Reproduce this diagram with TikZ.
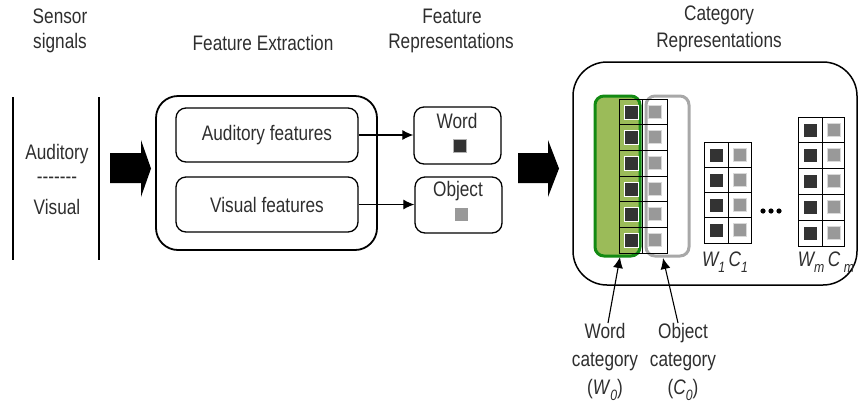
\documentclass[tikz,border=0pt]{standalone}
\usepackage{fontspec}
\setmainfont[FakeStretch=0.82]{Liberation Sans}
\usetikzlibrary{arrows.meta}
\definecolor{txt}{HTML}{2E2E2E}
\definecolor{catgreen}{HTML}{9BBB59}
\definecolor{catgreenline}{HTML}{138A13}
\definecolor{catgray}{HTML}{A8A8A8}
\definecolor{wordsq}{HTML}{333333}
\definecolor{objsq}{HTML}{999999}
\newcommand{\lowidx}[1]{\raisebox{-6pt}{\fontsize{15}{15}\selectfont #1}}
\begin{document}
\begin{tikzpicture}[x=1pt,y=-1pt,
  lbl/.style={text=txt,font=\fontsize{21}{28}\selectfont,inner sep=0pt,align=center},
  rbox/.style={draw,line width=1.3pt,rounded corners=10pt,inner sep=0pt},
  bigbox/.style={draw,line width=1.8pt,inner sep=0pt},
  blockarrow/.style={fill=black},
  link/.style={line width=1.1pt,-{Latex[length=11pt,width=10pt]}},
  cell/.style={draw=black,line width=0.9pt},
  wsq/.style={fill=wordsq,draw=white,line width=1pt},
  csq/.style={fill=objsq,draw=white!85!black,line width=0.8pt}
]
\useasboundingbox (0,0) rectangle (858,408);

% ---- sensor signals ----
\node[lbl] (sensorT) at (60,16) {Sensor};
\node[lbl] (sensorB) at (60,43) {signals};
\draw[line width=1.2pt] (13,97) -- (13,260);
\draw[line width=1.2pt] (99,97) -- (99,260);
\node[lbl] (aud) at (57,154) {Auditory};
\node[lbl] (dash) at (57,180) {{-}{-}{-}{-}{-}{-}{-}};
\node[lbl] (vis) at (57,207) {Visual};

% ---- block arrows ----
\fill[blockarrow] (110,153) -- (141,153) -- (141,140) -- (151,168.5) -- (141,197) -- (141,183) -- (110,183) -- cycle;
\fill[blockarrow] (518,153) -- (548,153) -- (548,140) -- (559,168.5) -- (548,197) -- (548,183) -- (518,183) -- cycle;

% ---- feature extraction ----
\node[lbl] (feT) at (263,43) {Feature Extraction};
\node[bigbox,rounded corners=22pt,minimum width=221pt,minimum height=154pt] (fe) at (266.5,173) {};
\node[rbox,minimum width=182pt,minimum height=54pt,lbl] (audf) at (267,135) {Auditory features};
\node[rbox,minimum width=182pt,minimum height=55pt,lbl] (visf) at (267,204.5) {Visual features};

% ---- feature representations ----
\node[lbl] (frT) at (452,16) {Feature};
\node[lbl] (frB) at (451,43) {Representations};
\node[rbox,minimum width=87pt,minimum height=57pt] (word) at (457.5,135.5) {};
\node[lbl] (wordT) at (457,121) {Word};
\filldraw[fill=wordsq,draw=gray!60,line width=0.8pt] (453,139) rectangle (466,152);
\node[rbox,minimum width=87pt,minimum height=56pt] (obj) at (458.5,205) {};
\node[lbl] (objT) at (458,191) {Object};
\fill[objsq] (455,208) rectangle (468,221);

\draw[link] (audf.east) -- (audf.east -| word.west);
\draw[link] (visf.east) -- (visf.east -| obj.west);

% ---- category representations ----
\node[lbl] (crT) at (719,15) {Category};
\node[lbl] (crB) at (719,42) {Representations};
\draw[line width=1.5pt,rounded corners=34pt] (573,62) rectangle (857,285);

% W0 / C0 highlight columns
\filldraw[fill=catgreen,draw=catgreenline,line width=3pt,rounded corners=9pt] (595,96) rectangle (640,256);
\draw[draw=catgray,line width=3pt,rounded corners=9pt] (646,96) rectangle (689,256);

\foreach \i [evaluate=\i as \yt using 99+\i*25.67] in {0,...,5} {
  \draw[cell] (619,\yt) rectangle (642,\yt+25.67);
  \draw[cell] (642,\yt) rectangle (667,\yt+25.67);
  \filldraw[wsq] (624,\yt+6) rectangle ++(14,14);
  \filldraw[csq] (648,\yt+6) rectangle ++(13,13);
}

% W1 / C1
\foreach \i [evaluate=\i as \yt using 142+\i*25.25] in {0,...,3} {
  \draw[cell] (704,\yt) rectangle (728,\yt+25.25);
  \draw[cell] (728,\yt) rectangle (751,\yt+25.25);
  \filldraw[wsq] (709,\yt+6) rectangle ++(14,14);
  \filldraw[csq] (733,\yt+6) rectangle ++(13,13);
}

% Wm / Cm
\foreach \i [evaluate=\i as \yt using 117+\i*25.8] in {0,...,4} {
  \draw[cell] (798,\yt) rectangle (822,\yt+25.8);
  \draw[cell] (822,\yt) rectangle (844,\yt+25.8);
  \filldraw[wsq] (803,\yt+6) rectangle ++(14,14);
  \filldraw[csq] (827,\yt+6) rectangle ++(13,13);
}

% ellipsis dots
\foreach \x in {763,771,779} \fill (\x,211) circle (2.6pt);

\node[lbl,font=\fontsize{21}{28}\selectfont\itshape] (w1c1) at (725,262) {W\lowidx{1}\,C\lowidx{1}};
\node[lbl,font=\fontsize{21}{28}\selectfont\itshape] (wmcm) at (826,262) {W\lowidx{m}\,C\,\lowidx{m}};

% ---- category labels ----
\node[lbl,anchor=north] (wcat) at (605,323) {Word\\category\\(\textit{W}\lowidx{\textit{0}})};
\node[lbl,anchor=north] (ocat) at (683,323) {Object\\category\\(\textit{C}\lowidx{\textit{0}})};
\coordinate (wtip) at (620,257);
\coordinate (otip) at (663,258);
\draw[link] ([xshift=3pt]wcat.north) -- (wtip);
\draw[link] ([xshift=-5pt]ocat.north) -- (otip);
\end{tikzpicture}
\end{document}
